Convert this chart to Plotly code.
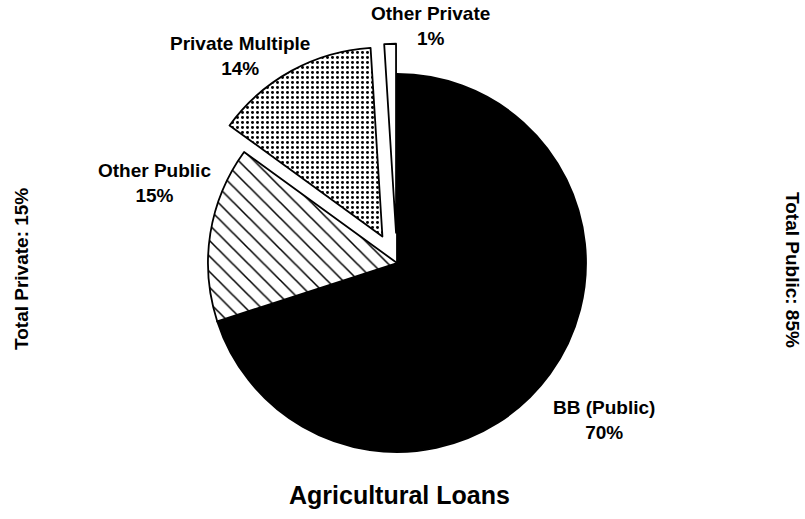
import plotly.graph_objects as go

# Agricultural loan shares by lender
lenders = ["BB (Public)", "Other Public", "Private Multiple", "Other Private"]
shares = [70, 15, 14, 1]
pulls = [0, 0, 0.16, 0.16]
fills = ["black", "white", "white", "white"]
patterns = ["", "\\", ".", ""]

W, H = 805, 519
FONT = "Liberation Sans, Arial, Helvetica, sans-serif"

# pie centre and radius in pixels; domain box grows to make room for pulled slices
cx, cy, r = 397, 263, 189
half = r * (1 + max(pulls))
dom_x = [(cx - half) / W, (cx + half) / W]
dom_y = [1 - (cy + half) / H, 1 - (cy - half) / H]

fig = go.Figure(
    go.Pie(
        labels=lenders,
        values=shares,
        sort=False,
        direction="clockwise",
        rotation=0,
        pull=pulls,
        textinfo="none",
        hoverinfo="label+percent",
        domain=dict(x=dom_x, y=dom_y),
        marker=dict(
            colors=fills,
            line=dict(color="black", width=1.8),
            pattern=dict(
                shape=patterns,
                fgcolor="black",
                bgcolor="white",
                size=[8, 11, 5, 8],
                solidity=[0.3, 0.14, 0.28, 0.3],
            ),
        ),
        showlegend=False,
    )
)

# slice labels: (text, percent, x px, y px)
slice_labels = [
    ("BB (Public)", "70%", 604, 420),
    ("Other Public", "15%", 154, 183),
    ("Private Multiple", "14%", 240, 56),
    ("Other Private", "1%", 430, 26),
]
for name, pct, px, py in slice_labels:
    fig.add_annotation(
        text=f"<b>{name}<br>{pct}</b>",
        x=px / W, y=1 - py / H, xref="paper", yref="paper",
        xanchor="center", yanchor="middle", showarrow=False,
        font=dict(family=FONT, size=19, color="black"),
    )

fig.add_annotation(
    text="<b>Agricultural Loans</b>",
    x=399 / W, y=1 - 495 / H, xref="paper", yref="paper",
    xanchor="center", yanchor="middle", showarrow=False,
    font=dict(family=FONT, size=25, color="black"),
)
fig.add_annotation(
    text="<b>Total Private: 15%</b>",
    x=22 / W, y=1 - 269 / H, xref="paper", yref="paper",
    xanchor="center", yanchor="middle", showarrow=False, textangle=-90,
    font=dict(family=FONT, size=19, color="black"),
)
fig.add_annotation(
    text="<b>Total Public: 85%</b>",
    x=793 / W, y=1 - 270 / H, xref="paper", yref="paper",
    xanchor="center", yanchor="middle", showarrow=False, textangle=90,
    font=dict(family=FONT, size=19, color="black"),
)

fig.update_layout(
    width=W, height=H,
    margin=dict(l=0, r=0, t=0, b=0),
    paper_bgcolor="white",
    plot_bgcolor="white",
)

fig.write_html("out.html")
